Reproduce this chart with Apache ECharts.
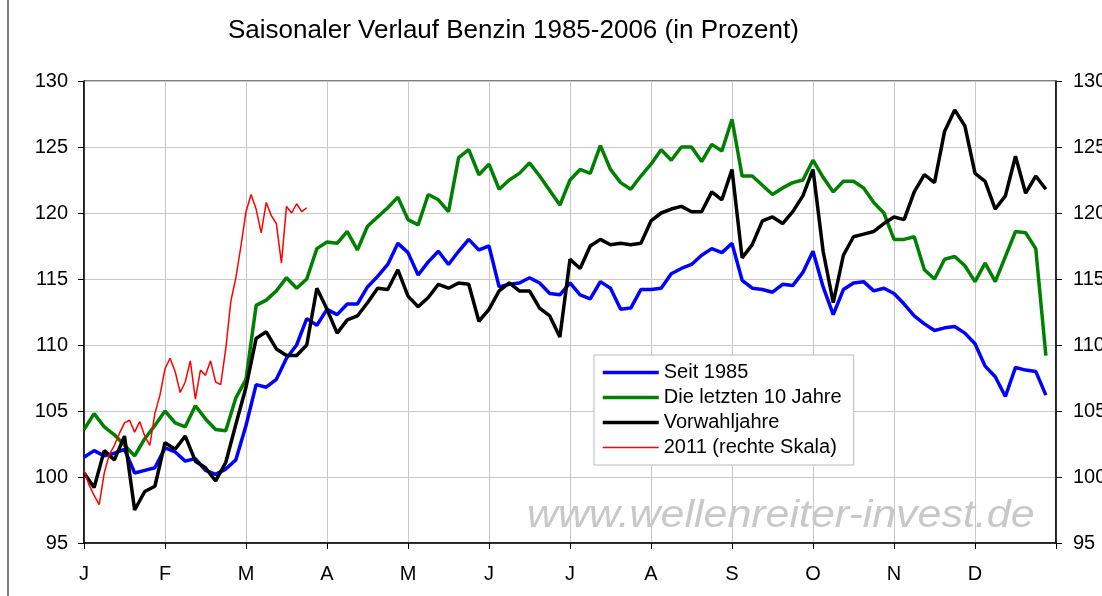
<!DOCTYPE html>
<html>
<head>
<meta charset="utf-8">
<script src="https://cdn.jsdelivr.net/npm/echarts@6/dist/echarts.min.js"></script>
<style>
    html,body{margin:0;padding:0;background:#fff;}
    #chart{width:1102px;height:596px;}
</style>
</head>
<body>
<div id="chart"></div>
<script>
// month letters on the x axis
var months = ['J','F','M','A','M','J','J','A','S','O','N','D'];
var yTicks = [95, 130, 5];   // min, max, step (both scales)

// 8 points per month
var step = 1 / 8;
var seit1985 = [
    101.5,102.0,101.6,101.8,102.1,100.3,100.5,100.7,102.2,101.9,101.2,101.4,100.5,100.2,100.6,101.3,
    103.9,107.0,106.8,107.4,109.0,110.0,112.0,111.5,112.7,112.3,113.1,113.1,114.4,115.2,116.1,117.7,
    117.0,115.3,116.3,117.1,116.1,117.1,118.0,117.2,117.5,114.4,114.6,114.7,115.1,114.7,113.9,113.8,
    114.7,113.8,113.5,114.8,114.3,112.7,112.8,114.2,114.2,114.3,115.4,115.8,116.1,116.8,117.3,117.0,
    117.7,114.9,114.3,114.2,114.0,114.6,114.5,115.5,117.1,114.4,112.3,114.2,114.7,114.8,114.1,114.3,
    113.9,113.1,112.2,111.6,111.1,111.3,111.4,110.9,110.1,108.4,107.6,106.1,108.3,108.1,108.0,106.2
];
var letzte10 = [
    103.6,104.8,103.8,103.2,102.4,101.6,102.9,103.9,105.0,104.1,103.8,105.4,104.4,103.6,103.5,106.0,
    107.4,113.0,113.4,114.1,115.1,114.3,115.0,117.3,117.8,117.7,118.6,117.2,119.0,119.7,120.4,121.2,
    119.5,119.1,121.4,121.0,120.1,124.2,124.8,122.9,123.7,121.8,122.5,123.0,123.8,122.8,121.7,120.6,
    122.5,123.3,123.0,125.1,123.3,122.3,121.8,122.8,123.7,124.8,124.0,125.0,125.0,123.9,125.2,124.7,
    127.1,122.8,122.8,122.1,121.4,121.9,122.3,122.5,124.0,122.7,121.6,122.4,122.4,121.9,120.8,120.0,
    118.0,118.0,118.2,115.7,115.0,116.5,116.7,116.0,114.8,116.2,114.8,116.7,118.6,118.5,117.3,109.2
];
var vorwahl = [
    100.3,99.2,102.0,101.3,103.1,97.5,98.9,99.3,102.6,102.1,103.1,101.2,100.7,99.7,101.1,104.0,
    106.8,110.5,111.0,109.7,109.2,109.2,110.0,114.3,112.7,110.9,111.9,112.2,113.2,114.3,114.2,115.7,
    113.7,112.9,113.6,114.6,114.3,114.7,114.6,111.8,112.7,114.1,114.7,114.1,114.1,112.8,112.2,110.6,
    116.5,115.8,117.5,118.0,117.6,117.7,117.6,117.7,119.4,120.0,120.3,120.5,120.1,120.1,121.6,121.0,
    123.3,116.6,117.6,119.4,119.7,119.2,120.1,121.3,123.3,117.1,113.2,116.8,118.2,118.4,118.6,119.2,
    119.7,119.5,121.6,122.9,122.3,126.2,127.8,126.6,123.0,122.4,120.3,121.3,124.3,121.5,122.8,121.8
];

// 2011, 16 points per month, right scale
var step2011 = 1 / 16;
var jahr2011 = [
    100.5,99.4,98.6,97.9,100.3,101.7,102.4,103.3,104.1,104.3,103.4,104.2,103.1,102.4,104.8,106.2,
    108.2,109.0,108.0,106.4,107.2,108.8,105.9,108.1,107.7,108.8,107.2,107.0,109.7,113.3,115.1,117.5,
    120.1,121.4,120.3,118.5,120.8,119.8,119.2,116.2,120.5,120.0,120.7,120.1,120.4
];

function toPairs(vals, dx){
    var out = [];
    for (var i = 0; i < vals.length; i++) out.push([i * dx, vals[i]]);
    return out;
}

var font = 'Liberation Sans, Arial, sans-serif';
var myChart = echarts.init(document.getElementById('chart'));

function yAxis(pos){
    return {
        type:'value', position:pos,
        min:yTicks[0], max:yTicks[1], interval:yTicks[2],
        axisLine:{show:true, lineStyle:{color:'#000', width:1.5}},
        axisTick:{show:true, length:6, lineStyle:{color:'#000'}},
        axisLabel:{color:'#000', fontSize:20, fontFamily:font, margin:pos=='left'?16:17},
        splitLine:{show:pos=='left', lineStyle:{color:'#c8c8c8', width:1}}
    };
}

myChart.setOption({
    animation:false,
    title:{
        text:'Saisonaler Verlauf Benzin 1985-2006 (in Prozent)',
        left:228, top:18, padding:0,
        textStyle:{fontSize:26, fontWeight:'normal', color:'#000', fontFamily:font}
    },
    grid:{
        left:84, right:46, top:81, bottom:53,
        show:true, borderColor:'#000', borderWidth:1,
        containLabel:false, outerBoundsMode:'none'
    },
    legend:{
        orient:'vertical', left:594, top:355,
        backgroundColor:'#fff', borderColor:'#bbb', borderWidth:1,
        padding:[7,12,7,7], itemGap:4, itemWidth:56, itemHeight:12, itemTextGap:6,
        itemStyle:{opacity:0},
        textStyle:{fontSize:20, lineHeight:21, color:'#000', fontFamily:font},
        data:[
            {name:'Seit 1985', lineStyle:{width:3.5}},
            {name:'Die letzten 10 Jahre', lineStyle:{width:3.5}},
            {name:'Vorwahljahre', lineStyle:{width:3.5}},
            {name:'2011 (rechte Skala)', lineStyle:{width:1.5}}
        ]
    },
    graphic:[
        {
            type:'text', x:527, y:516, scaleX:1.13, z:-1, silent:true,
            style:{
                text:'www.wellenreiter-invest.de',
                font:'italic 38px Liberation Sans, Arial, sans-serif',
                fill:'#c8c8c8', verticalAlign:'middle'
            }
        },
        {
            type:'line', silent:true,
            shape:{x1:8, y1:0, x2:8, y2:596},
            style:{stroke:'#555', lineWidth:1.5}
        }
    ],
    xAxis:{
        type:'value', min:0, max:12, interval:1,
        axisLine:{show:true, onZero:false, lineStyle:{color:'#000', width:1.5}},
        axisTick:{show:true, length:6, lineStyle:{color:'#000'}},
        axisLabel:{
            color:'#000', fontSize:20, fontFamily:font, margin:21,
            formatter:function(v){ return months[v] || ''; }
        },
        splitLine:{show:true, lineStyle:{color:'#c8c8c8', width:1}}
    },
    yAxis:[yAxis('left'), yAxis('right')],
    series:[
        {name:'Seit 1985', type:'line', showSymbol:false, symbol:'none',
         lineStyle:{color:'#0000ff', width:3.5}, itemStyle:{color:'#0000ff'},
         data:toPairs(seit1985, step)},
        {name:'Die letzten 10 Jahre', type:'line', showSymbol:false, symbol:'none',
         lineStyle:{color:'#008000', width:3.5}, itemStyle:{color:'#008000'},
         data:toPairs(letzte10, step)},
        {name:'Vorwahljahre', type:'line', showSymbol:false, symbol:'none',
         lineStyle:{color:'#000000', width:3.5}, itemStyle:{color:'#000000'},
         data:toPairs(vorwahl, step)},
        {name:'2011 (rechte Skala)', type:'line', yAxisIndex:1, showSymbol:false, symbol:'none',
         lineStyle:{color:'#ff0000', width:1.5}, itemStyle:{color:'#ff0000'},
         data:toPairs(jahr2011, step2011)}
    ]
});
</script>
</body>
</html>
